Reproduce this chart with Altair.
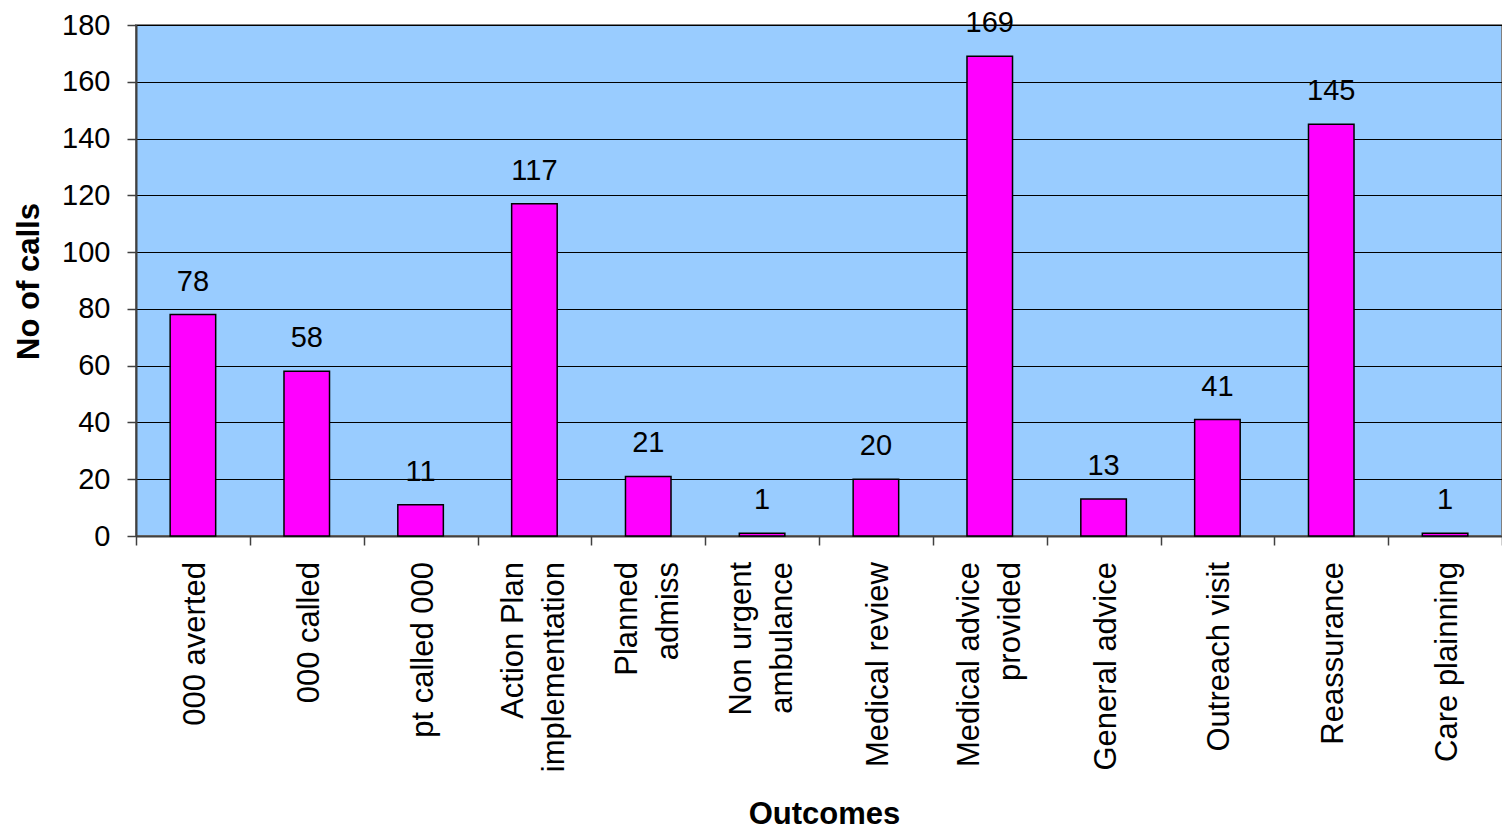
import altair as alt
import pandas as pd

categories = [
    "000 averted", "000 called", "pt called 000", "Action Plan\nimplementation",
    "Planned\nadmiss", "Non urgent\nambulance", "Medical review",
    "Medical advice\nprovided", "General advice", "Outreach visit",
    "Reassurance", "Care plainning",
]
calls = [78, 58, 11, 117, 21, 1, 20, 169, 13, 41, 145, 1]
y_ticks = [0, 20, 40, 60, 80, 100, 120, 140, 160, 180]

df = pd.DataFrame({"Outcome": categories, "Calls": calls})
df["multi"] = df["Outcome"].str.contains("\n")

FONT = "Liberation Sans"
H = 511

x_enc = alt.X(
    "Outcome:N",
    sort=categories,
    scale=alt.Scale(paddingInner=0, paddingOuter=0),
    axis=alt.Axis(
        title="Outcomes",
        titleFont=FONT, titleFontSize=31, titleFontWeight="bold", titleColor="black",
        titleY=287, titleX=688, titleBaseline="alphabetic",
        labels=False,
        tickBand="extent", tickSize=9, tickColor="#404040", tickWidth=1.5,
        domainColor="#404040", domainWidth=2,
        grid=False,
    ),
)

y_enc = alt.Y(
    "Calls:Q",
    scale=alt.Scale(domain=[0, 180], nice=False),
    axis=alt.Axis(
        title="No of calls",
        titleFont=FONT, titleFontSize=31, titleFontWeight="bold", titleColor="black",
        titleAngle=270, titleX=-98, titleY=256, titleAlign="center",
        titleBaseline="alphabetic",
        values=y_ticks,
        labelFont=FONT, labelFontSize=29, labelColor="black", labelPadding=17,
        tickSize=9, tickColor="#404040", tickWidth=1.5,
        domainColor="#404040", domainWidth=2,
        grid=True, gridColor="black", gridWidth=1,
    ),
)

bars = alt.Chart(df).mark_bar(
    color="#FF00FF", stroke="black", strokeWidth=1.5,
    width=alt.RelativeBandSize(0.4),
).encode(x=x_enc, y=y_enc)

values = alt.Chart(df).mark_text(
    font=FONT, fontSize=29, color="black", baseline="alphabetic", dy=-24
).encode(
    x=alt.X("Outcome:N", sort=categories),
    y=alt.Y("Calls:Q"),
    text=alt.Text("Calls:Q"),
)

single_lbl = alt.Chart(df).transform_filter("!datum.multi").mark_text(
    font=FONT, fontSize=31, color="black", angle=270,
    align="right", baseline="middle", dy=3,
).encode(
    x=alt.X("Outcome:N", sort=categories),
    y=alt.value(H + 26),
    text="Outcome:N",
)

multi_lbl = alt.Chart(df).transform_filter("datum.multi").mark_text(
    font=FONT, fontSize=31, color="black", angle=270,
    align="right", baseline="middle", dy=-20,
    lineBreak="\n", lineHeight=41,
).encode(
    x=alt.X("Outcome:N", sort=categories),
    y=alt.value(H + 26),
    text="Outcome:N",
)

chart = (
    alt.layer(bars, values, single_lbl, multi_lbl)
    .properties(
        width=1366,
        height=H,
        autosize=alt.AutoSizeParams(type="none"),
        padding={"left": 136, "top": 25, "right": 0, "bottom": 293},
        background="white",
    )
    .configure_view(fill="#99CCFF", stroke="#808080", strokeWidth=2)
)

chart.save("out.html", embed_options={"renderer": "svg", "actions": False})
